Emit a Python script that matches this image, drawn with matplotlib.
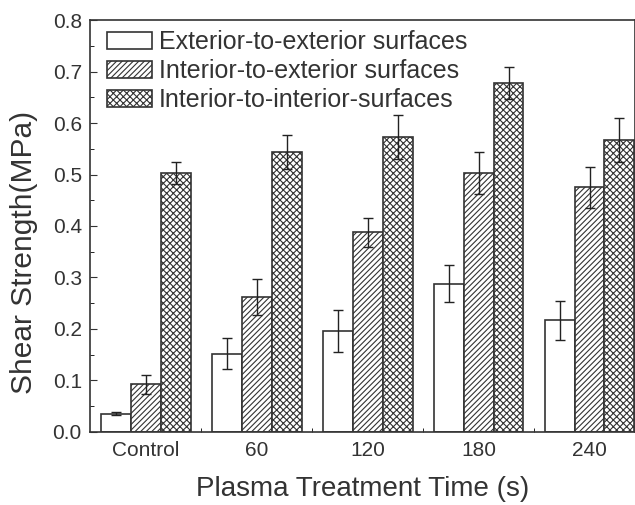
import numpy as np
import matplotlib
matplotlib.use("Agg")
import matplotlib.pyplot as plt

plt.rcParams['font.family'] = ['Liberation Sans', 'DejaVu Sans']
plt.rcParams['hatch.color'] = '#8a8a8a'
plt.rcParams['hatch.linewidth'] = 0.8

groups = ['Control', '60', '120', '180', '240']
series = ['Exterior-to-exterior surfaces',
          'Interior-to-exterior surfaces',
          'Interior-to-interior-surfaces']
ext_ext = [0.035, 0.152, 0.196, 0.288, 0.217]
ext_ext_err = [0.003, 0.030, 0.040, 0.036, 0.038]
int_ext = [0.092, 0.262, 0.388, 0.503, 0.475]
int_ext_err = [0.018, 0.035, 0.028, 0.040, 0.040]
int_int = [0.503, 0.543, 0.573, 0.678, 0.567]
int_int_err = [0.022, 0.033, 0.042, 0.032, 0.042]

values = [ext_ext, int_ext, int_int]
errors = [ext_ext_err, int_ext_err, int_int_err]
hatches = ['', '//////', 'xxxxx']
txt = '#333333'

fig = plt.figure(figsize=(6.35, 5.05), dpi=100)
ax = fig.add_axes([0.142, 0.145, 0.858, 0.815])

x = np.arange(len(groups))
w = 0.27
for i in range(3):
    ax.bar(x + (i - 1) * w, values[i], w, facecolor='white', edgecolor='#333333',
           linewidth=1.2, hatch=hatches[i], label=series[i],
           yerr=errors[i], capsize=3.5,
           error_kw=dict(ecolor='#222222', elinewidth=1, capthick=1))

ax.set_ylim(0, 0.8)
ax.set_xlim(-0.5, 4.41)
ax.set_yticks(np.arange(0, 0.81, 0.1))
ax.set_yticks(np.arange(0.05, 0.8, 0.1), minor=True)
ax.set_yticklabels([f'{v:.1f}' for v in np.arange(0, 0.81, 0.1)])
ax.set_xticks(x)
ax.set_xticklabels(groups)
ax.set_xticks(x[:-1] + 0.5, minor=True)
ax.tick_params(axis='x', which='major', length=0, labelsize=15, colors=txt, pad=7)
ax.tick_params(axis='x', which='minor', direction='in', length=3)
ax.tick_params(axis='y', which='major', direction='in', length=5, labelsize=15, colors=txt, pad=6)
ax.tick_params(axis='y', which='minor', direction='in', length=3)
for s in ax.spines.values():
    s.set_linewidth(1.2)
    s.set_color('#333333')

ax.set_ylabel('Shear Strength(MPa)', fontsize=21.5, color=txt)
ax.yaxis.set_label_coords(-0.095, 0.435)
ax.set_xlabel('Plasma Treatment Time (s)', fontsize=20, color=txt, labelpad=11)

leg = ax.legend(loc='upper left', frameon=False, fontsize=18, handlelength=1.8,
                handleheight=0.7, handletextpad=0.25, labelspacing=0.2,
                borderaxespad=0.2, borderpad=0.2, bbox_to_anchor=(0.013, 1.0))
for t in leg.get_texts():
    t.set_color(txt)

fig.savefig('out.png', dpi=100)
